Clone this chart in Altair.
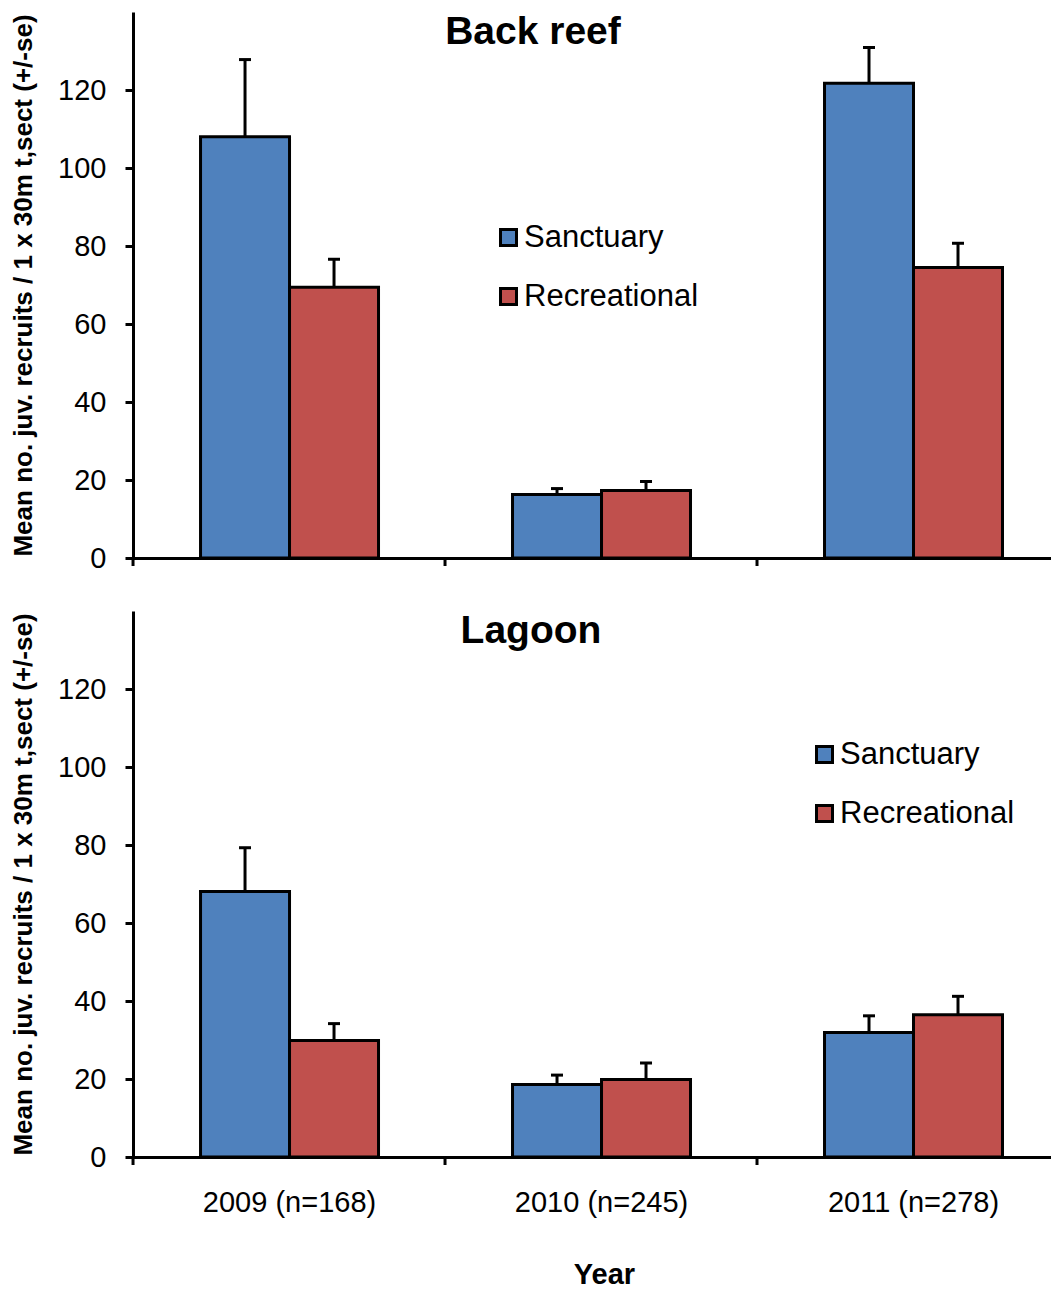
import altair as alt
import pandas as pd

years = ["2009 (n=168)", "2010 (n=245)", "2011 (n=278)"]
zones = ["Sanctuary", "Recreational"]
colors = ["#4F81BD", "#C0504D"]
panel_titles = ["Back reef", "Lagoon"]

# Back reef
back_sanct = [108.0, 16.3, 121.7]
back_sanct_se = [19.8, 1.5, 9.2]
back_recr = [69.4, 17.3, 74.5]
back_recr_se = [7.2, 2.3, 6.2]

# Lagoon
lag_sanct = [68.1, 18.6, 31.9]
lag_sanct_se = [11.2, 2.4, 4.3]
lag_recr = [29.9, 19.9, 36.5]
lag_recr_se = [4.3, 4.2, 4.7]

y_ticks = [0, 20, 40, 60, 80, 100, 120]

FONT = "Liberation Sans"
W = 918
H = 546


def make_df(s, s_se, r, r_se):
    rows = []
    for i, yr in enumerate(years):
        rows.append({"year": yr, "zone": zones[0], "mean": s[i], "upper": s[i] + s_se[i]})
        rows.append({"year": yr, "zone": zones[1], "mean": r[i], "upper": r[i] + r_se[i]})
    return pd.DataFrame(rows)


def panel(df, title, tx, lx, ly, bottom):
    xaxis = alt.Axis(
        title="Year" if bottom else None,
        labels=bottom,
        labelAngle=0,
        labelFontSize=29,
        labelFont=FONT,
        labelColor="black",
        labelPadding=31,
        titleFont=FONT,
        titleFontSize=29,
        titleFontWeight="bold",
        titleColor="black",
        titlePadding=43,
        titleX=471,
        ticks=False,
        domain=True,
        domainColor="black",
        domainWidth=3,
        grid=False,
    )
    yaxis = alt.Axis(
        title="Mean no. juv. recruits / 1 x 30m t,sect (+/-se)",
        values=y_ticks,
        labelFontSize=29,
        labelFont=FONT,
        labelColor="black",
        labelPadding=19,
        titleFont=FONT,
        titleFontSize=26,
        titleFontWeight="bold",
        titleColor="black",
        titlePadding=21,
        tickSize=8,
        tickWidth=3,
        tickColor="black",
        domainColor="black",
        domainWidth=3,
        grid=False,
    )
    xscale = alt.Scale(domain=years, paddingInner=0.1186, paddingOuter=0.0305, align=1)
    base = alt.Chart(df).encode(
        x=alt.X("year:N", sort=years, scale=xscale, axis=xaxis),
        xOffset=alt.XOffset("zone:N", sort=zones, scale=alt.Scale(paddingInner=0, paddingOuter=0.545)),
    )
    yscale = alt.Scale(domain=[0, 140], nice=False)
    bars = base.mark_bar(stroke="black", strokeWidth=3).encode(
        y=alt.Y("mean:Q", scale=yscale, axis=yaxis),
        color=alt.Color(
            "zone:N",
            sort=zones,
            scale=alt.Scale(domain=zones, range=colors),
            legend=alt.Legend(
                title=None,
                orient="none",
                legendX=lx,
                legendY=ly,
                symbolType="square",
                symbolSize=256,
                symbolStrokeColor="black",
                symbolStrokeWidth=3,
                symbolOpacity=1,
                labelFont=FONT,
                labelFontSize=31,
                labelColor="black",
                labelOffset=0,
                labelLimit=400,
                rowPadding=27,
                padding=0,
            ),
        ),
    )
    err = base.mark_rule(color="black", strokeWidth=3).encode(
        y=alt.Y("mean:Q", scale=yscale), y2="upper:Q"
    )
    cap = base.mark_tick(color="black", thickness=3, size=12, opacity=1).encode(
        y=alt.Y("upper:Q", scale=yscale)
    )
    # category-boundary ticks below the x axis
    xticks = alt.Chart(pd.DataFrame({"year": years})).mark_rule(
        color="black", strokeWidth=3, xOffset=-19
    ).encode(
        x=alt.X("year:N", sort=years, scale=xscale, bandPosition=0, axis=xaxis),
        y=alt.value(H),
        y2=alt.value(H + 8),
    )
    ttl = alt.Chart(pd.DataFrame({"t": [title]})).mark_text(
        font=FONT, fontSize=39, fontWeight="bold", color="black",
        align="center", baseline="alphabetic",
    ).encode(text="t:N", x=alt.value(tx), y=alt.value(32))
    return alt.layer(bars, err, cap, xticks, ttl).properties(width=W, height=H)


top = panel(make_df(back_sanct, back_sanct_se, back_recr, back_recr_se), panel_titles[0], 400, 360, 210, False)
bot = panel(make_df(lag_sanct, lag_sanct_se, lag_recr, lag_recr_se), panel_titles[1], 398, 676, 128, True)

chart = (
    alt.vconcat(top, bot, spacing=38)
    .resolve_legend(color="independent")
    .properties(padding={"left": 2, "top": 4, "right": 0, "bottom": 0})
    .configure(font=FONT)
    .configure_view(stroke=None)
)

chart.save("out.html", embed_options={"renderer": "svg", "actions": False})
